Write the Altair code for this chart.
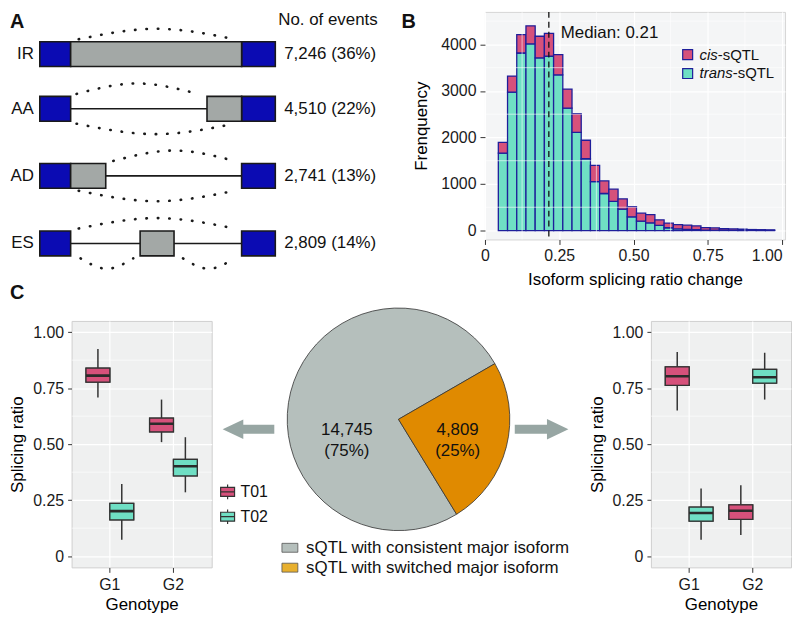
import math
import altair as alt
import pandas as pd

FONT = "Liberation Sans"

# ---------------- data ----------------
# Panel A: splicing event types
event_types = ["IR", "AA", "AD", "ES"]
event_counts = [7246, 4510, 2741, 2809]
event_percents = [36, 22, 13, 14]

# Panel B: histogram of isoform splicing ratio change
bin_starts = [0.045, 0.076, 0.107, 0.138, 0.169, 0.200, 0.231, 0.262, 0.293, 0.324,
              0.355, 0.386, 0.417, 0.448, 0.479, 0.510, 0.541, 0.572, 0.603, 0.634,
              0.665, 0.696, 0.727, 0.758, 0.789, 0.820, 0.851, 0.882, 0.913, 0.944]
BIN_WIDTH = 0.031
trans_counts = [1665, 2975, 3815, 4010, 3710, 3745, 3345, 2630, 2110, 1542,
                1052, 796, 625, 458, 295, 200, 165, 110, 60, 35,
                25, 18, 10, 8, 6, 5, 4, 3, 2, 2]
cis_counts = [230, 345, 395, 390, 465, 490, 435, 410, 400, 398,
              348, 270, 263, 222, 220, 173, 175, 120, 100, 90,
              90, 82, 54, 49, 37, 31, 24, 18, 16, 12]
sqtl_types = ["cis-sQTL", "trans-sQTL"]
median_change = 0.215
median_label = "Median: 0.21"

# Panel C: example boxplots
genotypes = ["G1", "G2"]
transcripts = ["T01", "T02"]
box_genotype = ["G1", "G1", "G2", "G2"]
box_transcript = ["T01", "T02", "T01", "T02"]
consistent_lower = [0.708, 0.073, 0.509, 0.285]
consistent_q1 = [0.777, 0.162, 0.555, 0.358]
consistent_median = [0.806, 0.201, 0.591, 0.401]
consistent_q3 = [0.839, 0.236, 0.616, 0.432]
consistent_upper = [0.925, 0.322, 0.699, 0.531]
switched_lower = [0.650, 0.073, 0.095, 0.699]
switched_q1 = [0.762, 0.156, 0.164, 0.772]
switched_median = [0.803, 0.193, 0.203, 0.799]
switched_q3 = [0.845, 0.219, 0.229, 0.834]
switched_upper = [0.911, 0.302, 0.317, 0.908]

pie_categories = ["sQTL with consistent major isoform", "sQTL with switched major isoform"]
pie_counts = [14745, 4809]

# ---------------- styles ----------------
BLUE = "#0B0BB3"
GREY_BOX = "#A3A8A6"
INK = "#1A1A1A"
PINK = "#D6517B"
CYAN = "#6FDFC4"
NAVY = "#1E1E9A"
PIE_GREY = "#B5BFBC"
PIE_ORANGE = "#E08A00"
LEG_ORANGE = "#E8B02E"
ARROW = "#97A6A3"

one = pd.DataFrame({"k": [0]})


def txt(text, x, y, size=17, align="left", baseline="top", weight="normal", style="normal", color="#111111"):
    return alt.Chart(pd.DataFrame({"t": [text]})).mark_text(
        align=align, baseline=baseline, fontSize=size, fontWeight=weight,
        fontStyle=style, color=color, font=FONT
    ).encode(text="t:N", x=alt.value(x), y=alt.value(y))


# ---------------- Panel A ----------------
# view origin is aligned with the boxplot panel below; content overhangs to the left
A_W, A_H = 330, 292
A_LEFT = -62           # left edge of the figure relative to this view
PX_PER_U = 2.37
U0_PX = -32            # position of gene-model coordinate 0 relative to the view
EXON_H = 25
ROW_Y = {"IR": 42.5, "AA": 97.5, "AD": 165.0, "ES": 233.0}
EXON_L = (0.0, 13.1)
EXON_R = (85.7, 100.0)
ALT_REGION = {"IR": (13.1, 85.7), "AA": (71.0, 85.7), "AD": (13.1, 28.0), "ES": (42.6, 57.0)}
INTRONS = {"IR": [], "AA": [(13.1, 71.0)], "AD": [(28.0, 85.7)],
           "ES": [(13.1, 42.6), (57.0, 85.7)]}
ARCS = {"IR": [("top", 16.5, 82.7)],
        "AA": [("top", 15.6, 67.1), ("bottom", 15.6, 82.7)],
        "AD": [("top", 31.2, 82.7), ("bottom", 16.5, 82.7)],
        "ES": [("top", 16.5, 82.7), ("bottom", 17.3, 39.7), ("bottom", 60.8, 82.7)]}

xA = alt.Scale(domain=[-U0_PX / PX_PER_U, (A_W - U0_PX) / PX_PER_U], nice=False, zero=False)
yA = alt.Scale(domain=[0, A_H], reverse=True, nice=False, zero=False)

rect_rows, intron_rows, arc_rows = [], [], []
for ev in event_types:
    cy = ROW_Y[ev]
    for kind, (u0, u1) in [("exon", EXON_L), ("exon", EXON_R), ("alt", ALT_REGION[ev])]:
        rect_rows.append(dict(event=ev, kind=kind, u0=u0, u1=u1,
                              y0=cy - EXON_H / 2, y1=cy + EXON_H / 2))
    for (u0, u1) in INTRONS[ev]:
        intron_rows.append(dict(event=ev, u0=u0, u1=u1, y=cy))
    for k, (side, u0, u1) in enumerate(ARCS[ev]):
        s = -1 if side == "top" else 1
        pts = [(u0, cy + s * 15), ((u0 + u1) / 2, cy + s * 25.5), (u1, cy + s * 15)]
        for j, (u, y) in enumerate(pts):
            arc_rows.append(dict(arc=f"{ev}{k}", pt=j, u=u, y=y))

labels_df = pd.DataFrame({"event": event_types, "u": [0.0] * 4, "y": [ROW_Y[e] for e in event_types],
                          "count": [f"{c:,} ({p}%)" for c, p in zip(event_counts, event_percents)]})

introns = alt.Chart(pd.DataFrame(intron_rows)).mark_rule(color=INK, strokeWidth=1.6).encode(
    x=alt.X("u0:Q", scale=xA, axis=None), x2="u1:Q", y=alt.Y("y:Q", scale=yA, axis=None))
arcs = alt.Chart(pd.DataFrame(arc_rows)).mark_line(
    color=INK, strokeWidth=2.6, strokeDash=[0.5, 11], strokeCap="round", interpolate="natural"
).encode(x=alt.X("u:Q", scale=xA, axis=None), y=alt.Y("y:Q", scale=yA, axis=None),
         detail="arc:N", order="pt:Q")
rects = alt.Chart(pd.DataFrame(rect_rows)).mark_rect(stroke=INK, strokeWidth=1.6).encode(
    x=alt.X("u0:Q", scale=xA, axis=None), x2="u1:Q",
    y=alt.Y("y0:Q", scale=yA, axis=None), y2="y1:Q",
    color=alt.Color("kind:N", scale=alt.Scale(domain=["exon", "alt"], range=[BLUE, GREY_BOX]), legend=None))
row_labels = alt.Chart(labels_df).mark_text(align="right", baseline="middle", dx=-6, fontSize=17,
                                            color="#111111", font=FONT).encode(
    x=alt.X("u:Q", scale=xA, axis=None), y=alt.Y("y:Q", scale=yA, axis=None), text="event:N")
count_labels = alt.Chart(labels_df.assign(u=EXON_R[1])).mark_text(
    align="left", baseline="middle", dx=9, fontSize=17, color="#111111", font=FONT).encode(
    x=alt.X("u:Q", scale=xA, axis=None), y=alt.Y("y:Q", scale=yA, axis=None), text="count:N")
header = alt.Chart(pd.DataFrame({"t": ["No. of events"], "u": [EXON_R[1]]})).mark_text(
    align="left", baseline="top", dx=3, fontSize=17, color="#111111", font=FONT).encode(
    x=alt.X("u:Q", scale=xA, axis=None), y=alt.value(0), text="t:N")

panelA = alt.layer(
    introns, arcs, rects, row_labels, count_labels, header,
    txt("A", A_LEFT, 0, size=20, weight="bold"),
    txt("C", A_LEFT, 273, size=20, weight="bold"),
).properties(width=A_W, height=A_H, view=alt.ViewBackground(strokeWidth=0))

# ---------------- Panel B ----------------
B_W, B_H = 302, 229
xB = alt.Scale(domain=[0, 1.01], nice=False, zero=False)
yB = alt.Scale(domain=[-192, 4698], nice=False, zero=False)
axB_x = alt.Axis(values=[0, 0.25, 0.5, 0.75, 1.0], title="Isoform splicing ratio change",
                 labelExpr="datum.value == 0 ? '0' : format(datum.value, '.2f')",
                 labelAlign={"condition": {"test": "datum.value >= 1", "value": "right"}, "value": "center"},
                 tickSize=5, labelPadding=3, titlePadding=8, grid=True)
axB_y = alt.Axis(values=[0, 1000, 2000, 3000, 4000], format="d", title="Frenquency",
                 tickSize=5, labelPadding=4, titlePadding=10, grid=True)

hist_rows = []
for s, t, c in zip(bin_starts, trans_counts, cis_counts):
    hist_rows.append(dict(start=s, end=s + BIN_WIDTH, type="trans-sQTL", y0=0, y1=t))
    hist_rows.append(dict(start=s, end=s + BIN_WIDTH, type="cis-sQTL", y0=t, y1=t + c))
hist_df = pd.DataFrame(hist_rows)

bars = alt.Chart(hist_df).mark_bar(stroke=NAVY, strokeWidth=1.3).encode(
    x=alt.X("start:Q", scale=xB, axis=axB_x),
    x2="end:Q",
    y=alt.Y("y0:Q", scale=yB, axis=axB_y),
    y2="y1:Q",
    color=alt.Color("type:N", scale=alt.Scale(domain=sqtl_types, range=[PINK, CYAN]), legend=None),
)
minor_xB = alt.Chart(pd.DataFrame({"v": [0.125, 0.375, 0.625, 0.875]})).mark_rule(
    color="white", strokeWidth=0.6).encode(x=alt.X("v:Q", scale=xB, axis=axB_x))
minor_yB = alt.Chart(pd.DataFrame({"v": [500, 1500, 2500, 3500, 4500]})).mark_rule(
    color="white", strokeWidth=0.6).encode(y=alt.Y("v:Q", scale=yB, axis=axB_y))
median_rule = alt.Chart(pd.DataFrame({"m": [median_change]})).mark_rule(
    color="#111111", strokeWidth=1.3, strokeDash=[6, 4]).encode(x=alt.X("m:Q", scale=xB, axis=axB_x))
median_text = alt.Chart(pd.DataFrame({"m": [median_change], "t": [median_label]})).mark_text(
    align="left", baseline="middle", dx=12, fontSize=17, color="#111111", font=FONT).encode(
    x=alt.X("m:Q", scale=xB, axis=axB_x), y=alt.value(21), text="t:N")

legB = []
for (lab, col, yy) in [("cis", PINK, 43), ("trans", CYAN, 62)]:
    legB.append(alt.Chart(one).mark_square(size=100, filled=True, color=col, stroke=NAVY,
                                           strokeWidth=1.2, opacity=1).encode(
        x=alt.value(204), y=alt.value(yy)))
    legB.append(txt(lab, 216, yy, size=15, baseline="middle", style="italic"))
    legB.append(txt("-sQTL", 216 + (18.3 if lab == "cis" else 33.4), yy, size=15, baseline="middle"))

panelB = alt.layer(
    bars, minor_xB, minor_yB, median_rule, median_text, *legB,
    txt("B", -84, 0, size=20, weight="bold"),
).properties(width=B_W, height=B_H,
             view=alt.ViewBackground(fill="#F4F5F6", stroke="#D6D6D6", strokeWidth=1))

# ---------------- Panel C boxplots ----------------
C_W, C_H = 141, 248
BOX_SYMBOL = "M-1,-0.64H1V0.64H-1Z M-1,0H1 M0,-0.64V-1.05 M0,0.64V1.05"


def box_chart(lower, q1, med, q3, upper, show_legend):
    df = pd.DataFrame({"genotype": box_genotype, "transcript": box_transcript,
                       "lower": lower, "q1": q1, "median": med, "q3": q3, "upper": upper})
    ys = alt.Scale(domain=[-0.05, 1.05], nice=False, zero=False)
    xs = alt.Scale(domain=genotypes, paddingInner=0.25, paddingOuter=0.2265)
    ax_x = alt.Axis(title="Genotype", labelAngle=0, grid=True, tickSize=5, labelPadding=4,
                    titlePadding=4)
    ax_y = alt.Axis(values=[0, 0.25, 0.5, 0.75, 1.0], title="Splicing ratio",
                    labelExpr="datum.value == 0 ? '0' : format(datum.value, '.2f')",
                    tickSize=4, labelPadding=4, titlePadding=6, grid=True)
    xo = alt.XOffset("transcript:N", scale=alt.Scale(domain=transcripts, paddingInner=0, paddingOuter=0))
    base = alt.Chart(df)
    if show_legend:
        leg = alt.Legend(orient="none", legendX=149, legendY=164, title=None,
                         symbolType=BOX_SYMBOL, symbolSize=196, symbolStrokeColor="#333333",
                         symbolStrokeWidth=1.2, labelFontSize=16, labelOffset=5, rowPadding=5,
                         labelColor="#111111", labelFont=FONT)
    else:
        leg = None
    boxes = base.mark_bar(stroke="#333333", strokeWidth=1.3).encode(
        x=alt.X("genotype:N", scale=xs, axis=ax_x),
        xOffset=xo,
        y=alt.Y("q1:Q", scale=ys, axis=ax_y),
        y2="q3:Q",
        color=alt.Color("transcript:N", scale=alt.Scale(domain=transcripts, range=[PINK, CYAN]),
                        legend=leg),
    )
    minor = alt.Chart(pd.DataFrame({"v": [0.125, 0.375, 0.625, 0.875]})).mark_rule(
        color="white", strokeWidth=0.6).encode(y=alt.Y("v:Q", scale=ys, axis=ax_y))
    whisk = base.mark_rule(color="#333333", strokeWidth=1.5).encode(
        x=alt.X("genotype:N", scale=xs, axis=ax_x), xOffset=xo,
        y=alt.Y("lower:Q", scale=ys, axis=ax_y), y2="upper:Q")
    meds = base.mark_bar(stroke="#2A2A2A", strokeWidth=2.6, fillOpacity=0).encode(
        x=alt.X("genotype:N", scale=xs, axis=ax_x), xOffset=xo,
        y=alt.Y("median:Q", scale=ys, axis=ax_y), y2="median:Q")
    return alt.layer(boxes, minor, whisk, boxes, meds).properties(
        width=C_W, height=C_H,
        view=alt.ViewBackground(fill="#EFF0F0", stroke="#CFCFCF", strokeWidth=1))


panelC1 = box_chart(consistent_lower, consistent_q1, consistent_median, consistent_q3,
                    consistent_upper, True)
panelC2 = box_chart(switched_lower, switched_q1, switched_median, switched_q3,
                    switched_upper, False)

# ---------------- Panel C pie ----------------
P_W, P_H = 420, 248
PIE_CX, PIE_CY, PIE_R = 177, 99, 112
start = math.radians(60)
total = sum(pie_counts)
pie_df = pd.DataFrame({"cat": pie_categories, "count": pie_counts, "ord": [1, 0]})
pie = alt.Chart(pie_df).mark_arc(radius=PIE_R, stroke="#333333", strokeWidth=0.8).encode(
    theta=alt.Theta("count:Q", stack=True, scale=alt.Scale(range=[start, start + 2 * math.pi])),
    color=alt.Color("cat:N", scale=alt.Scale(domain=pie_categories, range=[PIE_GREY, PIE_ORANGE]),
                    legend=None),
    order=alt.Order("ord:Q"),
    x=alt.value(PIE_CX), y=alt.value(PIE_CY),
)
pie_texts = []
for c, (lx, ly) in zip(pie_counts, [(125, 109.5), (236.5, 109.5)]):
    label = f"{c:,}\n({round(100 * c / total)}%)"
    pie_texts.append(alt.Chart(pd.DataFrame({"t": [label]})).mark_text(
        align="center", baseline="middle", fontSize=17, lineBreak="\n", lineHeight=21,
        color="#111111", font=FONT).encode(text="t:N", x=alt.value(lx), y=alt.value(ly)))

LEFT_ARROW = "M-1,0L-0.2,-0.38L-0.2,-0.17L1,-0.17L1,0.17L-0.2,0.17L-0.2,0.38Z"
RIGHT_ARROW = "M1,0L0.2,-0.38L0.2,-0.17L-1,-0.17L-1,0.17L0.2,0.17L0.2,0.38Z"
arrows = [
    alt.Chart(one).mark_point(shape=LEFT_ARROW, filled=True, size=2704, color=ARROW,
                              opacity=1, strokeWidth=0).encode(x=alt.value(26), y=alt.value(109)),
    alt.Chart(one).mark_point(shape=RIGHT_ARROW, filled=True, size=2916, color=ARROW,
                              opacity=1, strokeWidth=0).encode(x=alt.value(321), y=alt.value(109)),
]
SWATCH = "M-1,-0.56H1V0.56H-1Z"
pie_leg = []
for lab, col, yy in [(pie_categories[0], PIE_GREY, 228.3), (pie_categories[1], LEG_ORANGE, 248.3)]:
    pie_leg.append(alt.Chart(one).mark_point(shape=SWATCH, filled=True, size=256, color=col,
                                             stroke="#555555", strokeWidth=0.8, opacity=1).encode(
        x=alt.value(67.7), y=alt.value(yy)))
    pie_leg.append(txt(lab, 84, yy, size=17, baseline="middle"))

panelP = alt.layer(pie, *pie_texts, *arrows, *pie_leg).properties(
    width=P_W, height=P_H, view=alt.ViewBackground(strokeWidth=0))

# ---------------- assemble ----------------
row1 = alt.hconcat(panelA, panelB, spacing=86, bounds="flush").resolve_scale(color="independent")
row2 = alt.hconcat(panelC1, panelP, panelC2, spacing=11, bounds="flush").resolve_scale(color="independent")

chart = alt.vconcat(row1, row2, spacing=3).resolve_scale(color="independent").properties(
    padding=0
).configure(font=FONT).configure_view(strokeWidth=0).configure_axis(
    domain=False, tickColor="#333333", labelFontSize=16, labelColor="#1A1A1A",
    titleFontSize=17, titleFontWeight="normal", titleColor="#000000",
    gridColor="white", gridWidth=1.2, labelFlush=False, labelOverlap=False,
    labelFont=FONT, titleFont=FONT,
)

chart.save("out.html", embed_options={"renderer": "svg", "actions": False})
